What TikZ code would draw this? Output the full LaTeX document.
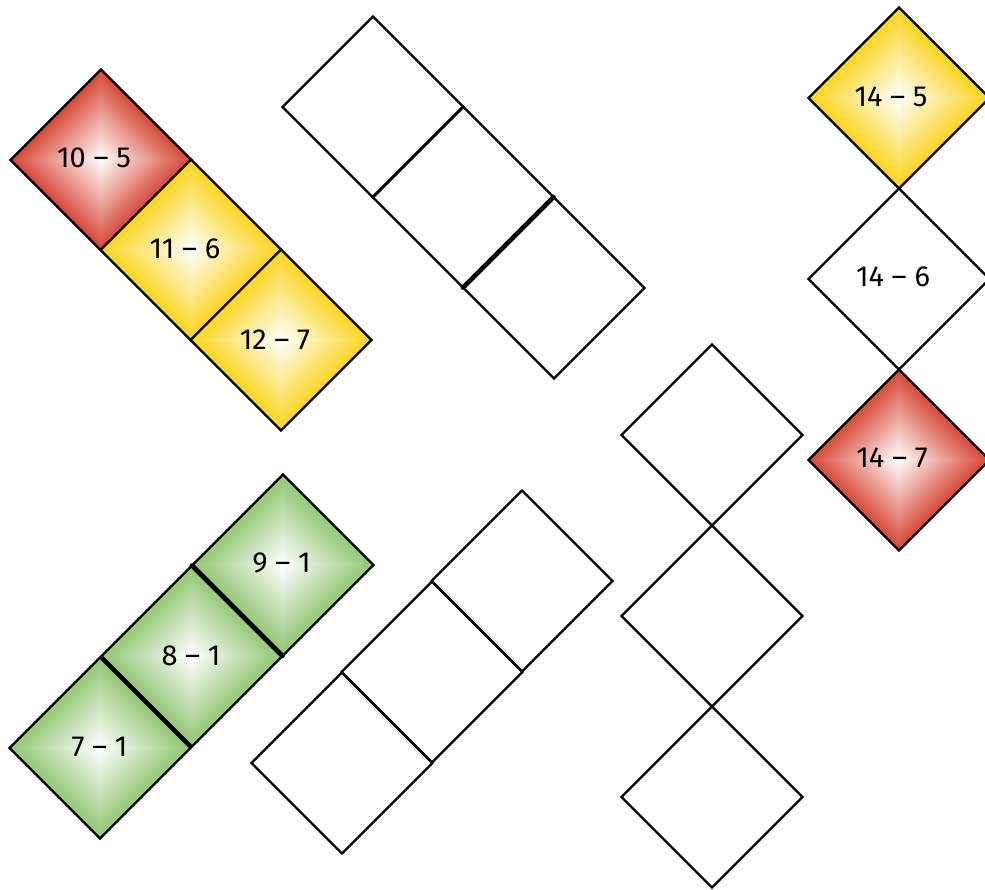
\documentclass[tikz,border=0pt]{standalone}
\usepackage{fontspec}
\setmainfont{Fira Sans}
\usetikzlibrary{shapes.geometric}
\definecolor{tred}{RGB}{214,70,52}
\definecolor{tyellow}{RGB}{250,212,28}
\definecolor{tgreen}{RGB}{146,198,116}
\tikzset{
  tile/.style={diamond, shape aspect=1, minimum width=181pt, minimum height=181pt,
    inner sep=0pt, outer sep=0pt, draw=black, line width=2.4pt, line join=miter},
  shadedtile/.style={tile, path picture={
    \foreach \i in {0,...,44}{
      \pgfmathsetmacro\r{92*(1-\i/45)}
      \pgfmathtruncatemacro\p{100*(1-\i/45)}
      \fill[#1!\p!white] (path picture bounding box.center) +(0pt,\r pt) -- +(\r pt,0pt) -- +(0pt,-\r pt) -- +(-\r pt,0pt) -- cycle;
    }}},
  lbl/.style={font=\fontsize{29}{34}\selectfont, inner sep=0pt},
  thickedge/.style={line width=4.6pt, line cap=round}
}
\begin{document}
\begin{tikzpicture}[x=1pt,y=-1pt]
\useasboundingbox (0,0) rectangle (985,890);
% group 1
\node[shadedtile=tred] (r1) at (101,160) {};
\node[shadedtile=tyellow] (y1) at (191,250) {};
\node[shadedtile=tyellow] (y2) at (281,340) {};
\node[lbl] (l1) at (94,158) {10 – 5};
\node[lbl] (l2) at (185,249) {11 – 6};
\node[lbl] (l3) at (275,340) {12 – 7};
% group 2
\node[tile] (w1) at (373,107) {};
\node[tile] (w2) at (463,197) {};
\node[tile] (w3) at (554,288) {};
\draw[thickedge] (w2.east) -- (w2.south);
% group 3
\node[shadedtile=tyellow] (y3) at (899,98) {};
\node[tile] (w4) at (899,279) {};
\node[shadedtile=tred] (r2) at (899,460) {};
\node[lbl] (l4) at (891,97) {14 – 5};
\node[lbl] (l5) at (893,277) {14 – 6};
\node[lbl] (l6) at (892,458) {14 – 7};
% group 4
\node[tile] (w5) at (712,435) {};
\node[tile] (w6) at (712,616) {};
\node[tile] (w7) at (712,797) {};
% group 5
\node[shadedtile=tgreen] (g1) at (100,748) {};
\node[shadedtile=tgreen] (g2) at (192,656) {};
\node[shadedtile=tgreen] (g3) at (283,565) {};
\draw[thickedge] (g2.north) -- (g2.east);
\node[lbl] (l7) at (99.5,747) {7 – 1};
\node[lbl] (l8) at (191,656) {8 – 1};
\node[lbl] (l9) at (281.5,563) {9 – 1};
% group 6
\node[tile] (w8) at (342,763) {};
\node[tile] (w9) at (432,672) {};
\node[tile] (w10) at (522,581) {};
\end{tikzpicture}
\end{document}
